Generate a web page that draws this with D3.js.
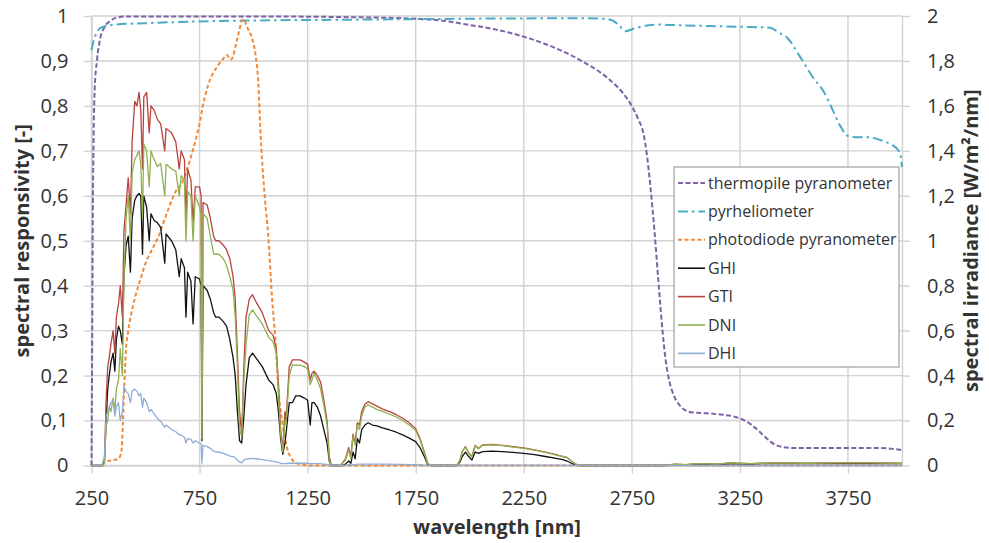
<!DOCTYPE html>
<html>
<head>
<meta charset="utf-8">
<script src="https://cdn.jsdelivr.net/npm/d3@7"></script>
<style>
  body { margin: 0; background: #fff; }
  svg { display: block; font-family: 'Open Sans', sans-serif; }
</style>
</head>
<body>
<div id="chart"></div>
<script>
// Sensor responsivity curves (left axis, [-]) as [wavelength nm, value]
const thermopile = [
  [250, 0], [253, 0.25], [256, 0.55], [260, 0.74], [265, 0.84], [275, 0.9], [290, 0.95],
  [310, 0.975], [340, 0.99], [370, 0.997], [420, 0.999], [1000, 0.999], [1500, 0.997],
  [1750, 0.994], [1900, 0.988], [2000, 0.98], [2100, 0.972], [2250, 0.954], [2400, 0.928],
  [2525, 0.898], [2600, 0.876], [2664, 0.851], [2710, 0.828], [2752, 0.798], [2780, 0.77],
  [2803, 0.74], [2820, 0.69], [2836, 0.62], [2855, 0.52], [2873, 0.41], [2890, 0.31],
  [2905, 0.24], [2925, 0.185], [2945, 0.155], [2965, 0.138], [2990, 0.125], [3030, 0.118],
  [3100, 0.116], [3170, 0.113], [3230, 0.108], [3280, 0.098], [3330, 0.08], [3370, 0.062],
  [3410, 0.047], [3450, 0.041], [3500, 0.039], [3900, 0.039], [3960, 0.037], [4000, 0.034]
]

const pyrheliometer = [
  [250, 0.924], [260, 0.945], [275, 0.963], [290, 0.973], [320, 0.978], [360, 0.981],
  [500, 0.984], [750, 0.988], [1000, 0.99], [1500, 0.992], [2000, 0.994], [2500, 0.995],
  [2620, 0.994], [2660, 0.99], [2690, 0.98], [2720, 0.966], [2760, 0.972], [2820, 0.979],
  [2870, 0.981], [3000, 0.979], [3250, 0.976], [3390, 0.974], [3430, 0.963], [3470, 0.951],
  [3530, 0.908], [3590, 0.862], [3640, 0.83], [3680, 0.79], [3715, 0.755], [3750, 0.733],
  [3800, 0.73], [3850, 0.73], [3900, 0.724], [3950, 0.714], [3980, 0.703], [3993, 0.69],
  [4000, 0.664]
]

const photodiode = [
  [300, 0], [317, 0.008], [350, 0.012], [375, 0.015], [388, 0.03], [395, 0.09], [402, 0.18],
  [410, 0.26], [420, 0.3], [435, 0.34], [455, 0.38], [480, 0.42], [500, 0.45], [530, 0.48],
  [560, 0.51], [590, 0.55], [613, 0.58], [640, 0.61], [670, 0.63], [706, 0.68], [735, 0.73],
  [752, 0.765], [765, 0.8], [780, 0.83], [800, 0.86], [831, 0.887], [860, 0.905],
  [877, 0.913], [893, 0.903], [900, 0.905], [925, 0.95], [951, 0.993], [975, 0.97],
  [993, 0.95], [1010, 0.91], [1022, 0.85], [1030, 0.76], [1053, 0.59], [1067, 0.517],
  [1086, 0.368], [1100, 0.286], [1113, 0.183], [1136, 0.086], [1169, 0.02], [1200, 0.005],
  [1260, 0], [4000, 0]
]

// Irradiance spectra (right axis, W/m²/nm) on a shared wavelength grid
const wl = [
  250, 280, 300, 310, 318, 325, 332, 340, 350, 358,
  365, 375, 383, 393, 400, 410, 420, 430, 438, 450,
  460, 470, 478, 486, 492, 505, 517, 525, 540, 555,
  570, 589, 595, 620, 640, 656, 665, 680, 687, 695,
  710, 720, 730, 750, 757, 761, 766, 785, 800, 815,
  825, 840, 860, 875, 890, 905, 915, 925, 935, 945,
  955, 965, 980, 995, 1010, 1040, 1070, 1090, 1105, 1115,
  1125, 1135, 1145, 1150, 1165, 1180, 1195, 1215, 1235, 1250,
  1262, 1270, 1280, 1295, 1310, 1320, 1330, 1340, 1350, 1360,
  1400, 1410, 1425, 1440, 1450, 1460, 1470, 1480, 1490, 1500,
  1515, 1530, 1550, 1570, 1600, 1630, 1660, 1690, 1720, 1750,
  1770, 1790, 1805, 1820, 1940, 1955, 1965, 1980, 1995, 2010,
  2025, 2040, 2060, 2100, 2150, 2200, 2250, 2300, 2350, 2400,
  2430, 2450, 2470, 2490, 2510, 2900, 2950, 3000, 3050, 3150,
  3200, 3300, 3350, 3450, 3550, 3700, 3850, 4000
]

const ghi = [
  0, 0, 0, 0.02, 0.2, 0.34, 0.4, 0.46, 0.5, 0.42,
  0.56, 0.62, 0.6, 0.54, 0.84, 0.98, 1.02, 0.86, 1.1, 1.18,
  1.2, 1.21, 1.2, 0.94, 1.2, 1.15, 1.0, 1.12, 1.09, 1.08,
  1.06, 0.9, 1.03, 1.0, 0.96, 0.84, 0.92, 0.88, 0.66, 0.86,
  0.82, 0.63, 0.84, 0.83, 0.8, 0.11, 0.8, 0.78, 0.74, 0.68,
  0.66, 0.66, 0.64, 0.62, 0.56, 0.48, 0.4, 0.24, 0.11, 0.1,
  0.22, 0.36, 0.48, 0.5, 0.48, 0.44, 0.38, 0.36, 0.32, 0.24,
  0.12, 0.05, 0.1, 0.14, 0.28, 0.28, 0.31, 0.31, 0.3, 0.29,
  0.18, 0.28, 0.28, 0.26, 0.22, 0.18, 0.14, 0.1, 0.02, 0,
  0, 0, 0.006, 0.02, 0.01, 0.06, 0.03, 0.12, 0.1, 0.16,
  0.18, 0.19, 0.18, 0.176, 0.166, 0.158, 0.148, 0.136, 0.122, 0.106,
  0.08, 0.04, 0.006, 0, 0, 0.016, 0.04, 0.06, 0.04, 0.024,
  0.06, 0.054, 0.062, 0.064, 0.062, 0.058, 0.054, 0.048, 0.04, 0.032,
  0.026, 0.02, 0.01, 0.002, 0, 0, 0.004, 0.002, 0.006, 0.004,
  0.008, 0.006, 0.008, 0.008, 0.008, 0.008, 0.008, 0.008
]

const gti = [
  0, 0, 0, 0.026, 0.3, 0.44, 0.48, 0.54, 0.6, 0.5,
  0.66, 0.72, 0.8, 0.66, 1.04, 1.16, 1.28, 1.12, 1.44, 1.62,
  1.6, 1.66, 1.58, 1.32, 1.64, 1.66, 1.48, 1.6, 1.58, 1.54,
  1.52, 1.4, 1.5, 1.48, 1.44, 1.32, 1.4, 1.36, 1.1, 1.32,
  1.27, 1.08, 1.24, 1.24, 1.2, 0.14, 1.17, 1.16, 1.1, 1.02,
  1.0, 1.0, 0.98, 0.96, 0.92, 0.84, 0.74, 0.5, 0.24, 0.14,
  0.44, 0.66, 0.74, 0.76, 0.73, 0.68, 0.6, 0.58, 0.52, 0.36,
  0.16, 0.07, 0.24, 0.2, 0.44, 0.47, 0.47, 0.47, 0.46, 0.45,
  0.38, 0.41, 0.42, 0.4, 0.37, 0.32, 0.26, 0.2, 0.04, 0,
  0, 0.01, 0.03, 0.08, 0.04, 0.14, 0.1, 0.19, 0.18, 0.24,
  0.272, 0.284, 0.274, 0.264, 0.25, 0.24, 0.226, 0.21, 0.19, 0.164,
  0.12, 0.06, 0.01, 0, 0, 0.024, 0.06, 0.084, 0.056, 0.04,
  0.09, 0.076, 0.092, 0.094, 0.09, 0.084, 0.078, 0.07, 0.06, 0.048,
  0.04, 0.036, 0.02, 0.006, 0, 0, 0.006, 0.004, 0.008, 0.006,
  0.012, 0.008, 0.01, 0.012, 0.01, 0.012, 0.012, 0.01
]

const dni = [
  0, 0, 0, 0.01, 0.18, 0.2, 0.26, 0.24, 0.3, 0.24,
  0.34, 0.38, 0.52, 0.4, 0.82, 1.1, 1.2, 1.0, 1.3, 1.36,
  1.38, 1.4, 1.34, 1.1, 1.43, 1.4, 1.24, 1.4, 1.36, 1.33,
  1.344, 1.2, 1.34, 1.32, 1.31, 1.2, 1.29, 1.27, 1.0, 1.22,
  1.2, 1.0, 1.2, 1.15, 1.12, 0.12, 1.12, 1.1, 1.02, 0.94,
  0.94, 0.94, 0.92, 0.89, 0.84, 0.78, 0.66, 0.44, 0.16, 0.13,
  0.38, 0.54, 0.67, 0.692, 0.67, 0.63, 0.57, 0.55, 0.5, 0.32,
  0.14, 0.06, 0.2, 0.18, 0.4, 0.45, 0.446, 0.446, 0.44, 0.43,
  0.36, 0.38, 0.41, 0.38, 0.34, 0.292, 0.24, 0.18, 0.03, 0,
  0, 0.01, 0.024, 0.07, 0.03, 0.13, 0.09, 0.18, 0.16, 0.22,
  0.26, 0.27, 0.26, 0.25, 0.24, 0.228, 0.216, 0.2, 0.18, 0.156,
  0.114, 0.056, 0.01, 0, 0, 0.024, 0.06, 0.082, 0.054, 0.038,
  0.088, 0.074, 0.09, 0.092, 0.088, 0.082, 0.076, 0.068, 0.058, 0.046,
  0.04, 0.036, 0.02, 0.006, 0, 0, 0.006, 0.004, 0.008, 0.006,
  0.012, 0.008, 0.01, 0.012, 0.01, 0.012, 0.012, 0.01
]

const dhi = [
  0, 0, 0.006, 0.04, 0.22, 0.24, 0.26, 0.28, 0.29, 0.22,
  0.26, 0.28, 0.2, 0.24, 0.35, 0.33, 0.32, 0.28, 0.33, 0.34,
  0.33, 0.31, 0.32, 0.26, 0.3, 0.28, 0.24, 0.25, 0.23, 0.21,
  0.196, 0.17, 0.18, 0.16, 0.15, 0.136, 0.136, 0.126, 0.1, 0.12,
  0.116, 0.1, 0.11, 0.1, 0.096, 0.01, 0.09, 0.084, 0.076, 0.064,
  0.06, 0.06, 0.054, 0.048, 0.042, 0.04, 0.034, 0.024, 0.016, 0.012,
  0.024, 0.028, 0.03, 0.032, 0.03, 0.026, 0.022, 0.018, 0.016, 0.014,
  0.01, 0.008, 0.008, 0.008, 0.01, 0.01, 0.01, 0.01, 0.01, 0.01,
  0.008, 0.008, 0.008, 0.008, 0.008, 0.006, 0.006, 0.004, 0.002, 0,
  0, 0, 0.002, 0.004, 0.002, 0.004, 0.004, 0.006, 0.006, 0.006,
  0.006, 0.006, 0.006, 0.006, 0.006, 0.006, 0.005, 0.005, 0.004, 0.004,
  0.003, 0.002, 0, 0, 0, 0.001, 0.002, 0.002, 0.002, 0.002,
  0.002, 0.002, 0.002, 0.002, 0.002, 0.002, 0.002, 0.002, 0.002, 0.002,
  0.001, 0.001, 0.001, 0, 0, 0, 0, 0, 0, 0,
  0, 0, 0, 0, 0, 0, 0, 0
]

const xTicks = [250, 750, 1250, 1750, 2250, 2750, 3250, 3750]
const leftTicks = [0, 0.1, 0.2, 0.3, 0.4, 0.5, 0.6, 0.7, 0.8, 0.9, 1]
const rightTicks = [0, 0.2, 0.4, 0.6, 0.8, 1, 1.2, 1.4, 1.6, 1.8, 2]

const series = [
  { name: 'thermopile pyranometer', data: thermopile, axis: 'left', color: '#7f62a6', width: 2, dash: '5,2.5' },
  { name: 'pyrheliometer', data: pyrheliometer, axis: 'left', color: '#4aabc5', width: 2, dash: '10,4,2.5,4' },
  { name: 'photodiode pyranometer', data: photodiode, axis: 'left', color: '#f08a3a', width: 2, dash: '4,2.5' },
  { name: 'GHI', data: d3.zip(wl, ghi), axis: 'right', color: '#111111', width: 1.3, dash: null },
  { name: 'GTI', data: d3.zip(wl, gti), axis: 'right', color: '#b8433f', width: 1.3, dash: null },
  { name: 'DNI', data: d3.zip(wl, dni), axis: 'right', color: '#8fb24f', width: 1.3, dash: null },
  { name: 'DHI', data: d3.zip(wl, dhi), axis: 'right', color: '#8fadd6', width: 1.3, dash: null }
]

const W = 989
const H = 543
const margin = { top: 16, right: 87, bottom: 77.5, left: 91.5 }
const width = W - margin.left - margin.right
const height = H - margin.top - margin.bottom

const svg = d3.select('#chart')
  .append('svg')
  .attr('width', W)
  .attr('height', H)

const g = svg.append('g')
  .attr('transform', `translate(${margin.left},${margin.top})`)

const x = d3.scaleLinear().domain([250, 4000]).range([0, width])
const yLeft = d3.scaleLinear().domain([0, 1]).range([height, 0])
const yRight = d3.scaleLinear().domain([0, 2]).range([height, 0])

const commaFmt = d => String(+d.toFixed(1)).replace('.', ',')
const gridColor = '#d2d2d2'
const textColor = '#333'

// gridlines
g.append('g')
  .selectAll('line')
  .data(leftTicks)
  .join('line')
  .attr('x1', 0).attr('x2', width)
  .attr('y1', d => yLeft(d)).attr('y2', d => yLeft(d))
  .attr('stroke', gridColor).attr('stroke-width', 1.4)

g.append('g')
  .selectAll('line')
  .data(xTicks)
  .join('line')
  .attr('x1', d => x(d)).attr('x2', d => x(d))
  .attr('y1', 0).attr('y2', height)
  .attr('stroke', gridColor).attr('stroke-width', 1.4)

// axes
function styleAxis (sel) {
  sel.selectAll('.domain, .tick line').attr('stroke', gridColor).attr('stroke-width', 1.4)
  sel.selectAll('text')
    .attr('fill', textColor)
    .style('font-size', '20px')
    .style('font-family', "'Open Sans', sans-serif")
}

g.append('g')
  .call(d3.axisLeft(yLeft).tickValues(leftTicks).tickFormat(commaFmt).tickSize(8).tickPadding(15).tickSizeOuter(0))
  .call(styleAxis)

g.append('g')
  .attr('transform', `translate(${width},0)`)
  .call(d3.axisRight(yRight).tickValues(rightTicks).tickFormat(commaFmt).tickSize(8).tickPadding(17).tickSizeOuter(0))
  .call(styleAxis)

g.append('g')
  .attr('transform', `translate(0,${height})`)
  .call(d3.axisBottom(x).tickValues(xTicks).tickFormat(d3.format('d')).tickSize(8).tickPadding(17).tickSizeOuter(0))
  .call(styleAxis)

// curves
series.forEach(s => {
  const y = s.axis === 'left' ? yLeft : yRight
  const line = d3.line()
    .x(d => x(d[0]))
    .y(d => y(d[1]))
    .curve(s.axis === 'left' ? d3.curveMonotoneX : d3.curveLinear)

  g.append('path')
    .datum(s.data)
    .attr('fill', 'none')
    .attr('stroke', s.color)
    .attr('stroke-width', s.width)
    .attr('stroke-dasharray', s.dash)
    .attr('stroke-linejoin', 'round')
    .attr('d', line)
})

// axis titles
svg.append('text')
  .attr('transform', `translate(29,${margin.top + height / 2}) rotate(-90)`)
  .attr('text-anchor', 'middle')
  .attr('fill', textColor)
  .style('font-size', '20px')
  .style('font-weight', 'bold')
  .text('spectral responsivity [-]')

svg.append('text')
  .attr('transform', `translate(978,${margin.top + height / 2}) rotate(-90)`)
  .attr('text-anchor', 'middle')
  .attr('fill', textColor)
  .style('font-size', '20px')
  .style('font-weight', 'bold')
  .text('spectral irradiance [W/m²/nm]')

svg.append('text')
  .attr('x', 497)
  .attr('y', 534)
  .attr('text-anchor', 'middle')
  .attr('fill', textColor)
  .style('font-size', '20px')
  .style('font-weight', 'bold')
  .text('wavelength [nm]')

// legend
const legend = svg.append('g')
  .attr('transform', 'translate(674,167)')

legend.append('rect')
  .attr('width', 225)
  .attr('height', 200)
  .attr('fill', '#fff')
  .attr('stroke', '#a0a0a0')
  .attr('stroke-width', 1.2)

series.forEach((s, i) => {
  const row = legend.append('g')
    .attr('transform', `translate(0,${16 + i * 28.4})`)

  row.append('line')
    .attr('x1', 4).attr('x2', 31)
    .attr('stroke', s.color)
    .attr('stroke-width', s.dash ? 2 : 1.6)
    .attr('stroke-dasharray', s.dash)

  row.append('text')
    .attr('x', 34)
    .attr('dy', '0.35em')
    .attr('fill', textColor)
    .style('font-size', '16px')
    .text(s.name)
})
</script>
</body>
</html>
